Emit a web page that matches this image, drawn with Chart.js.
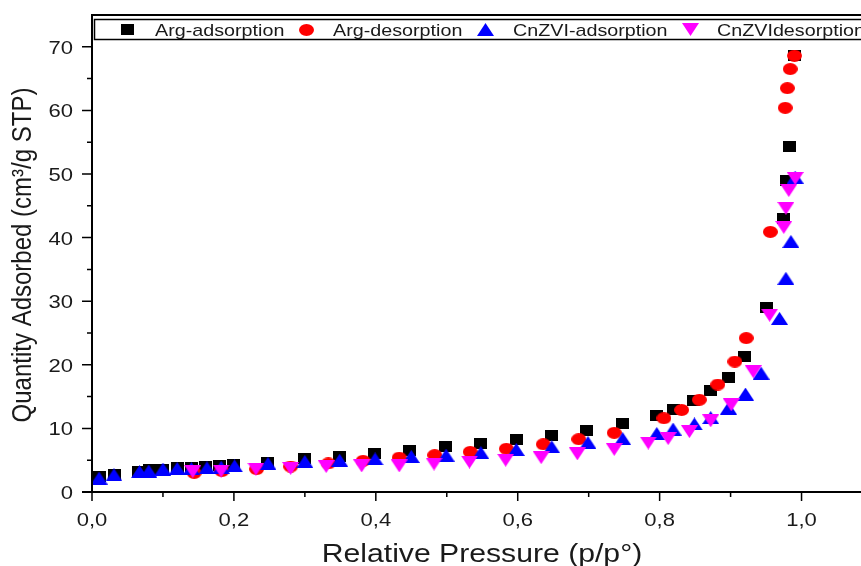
<!DOCTYPE html>
<html lang="en">
<head>
    <meta charset="UTF-8">
    <title>Adsorption Isotherms</title>
    <script src="https://cdn.jsdelivr.net/npm/chart.js"></script>
    <style>
        html, body { margin: 0; padding: 0; background: #fff; overflow: hidden; }
        #wrap { width: 880px; height: 566px; }
    </style>
</head>
<body>
<div id="wrap"><canvas id="isoChart" width="880" height="566"></canvas></div>
<script>
    // Arg adsorption / desorption (relative pressure, quantity adsorbed)
    const argAdsP = [0.011, 0.032, 0.066, 0.081, 0.100, 0.120, 0.140, 0.160, 0.180, 0.200, 0.248, 0.299, 0.349, 0.398, 0.448, 0.498,
                     0.547, 0.598, 0.647, 0.697, 0.747, 0.796, 0.819, 0.848, 0.872, 0.897, 0.920, 0.950, 0.975, 0.979, 0.983, 0.990];
    const argAdsQ = [2.4, 2.8, 3.3, 3.5, 3.6, 3.8, 3.9, 4.0, 4.1, 4.4, 4.7, 5.2, 5.6, 6.1, 6.6, 7.1,
                     7.7, 8.2, 8.9, 9.6, 10.8, 12.1, 13.0, 14.4, 15.9, 18.0, 21.3, 29.0, 43.0, 48.9, 54.3, 68.6];
    const argDesP = [0.144, 0.183, 0.232, 0.280, 0.333, 0.382, 0.433, 0.483, 0.533, 0.584, 0.636, 0.686,
                     0.736, 0.806, 0.831, 0.856, 0.882, 0.906, 0.922, 0.956, 0.977, 0.980, 0.984, 0.990];
    const argDesQ = [3.0, 3.3, 3.6, 4.0, 4.5, 4.9, 5.4, 5.8, 6.3, 6.8, 7.5, 8.3,
                     9.3, 11.6, 12.9, 14.5, 16.9, 20.5, 24.2, 40.9, 60.4, 63.5, 66.5, 68.6];

    // CnZVI adsorption / desorption
    const cnAdsP = [0.010, 0.031, 0.067, 0.080, 0.100, 0.120, 0.140, 0.162, 0.182, 0.201, 0.248, 0.300, 0.349, 0.399, 0.450, 0.499,
                    0.548, 0.598, 0.648, 0.699, 0.748, 0.796, 0.819, 0.849, 0.872, 0.897, 0.921, 0.943, 0.969, 0.978, 0.985, 0.991];
    const cnAdsQ = [2.2, 2.7, 3.2, 3.3, 3.6, 3.7, 3.7, 3.8, 3.9, 4.1, 4.5, 4.8, 5.0, 5.2, 5.6, 5.8,
                    6.2, 6.7, 7.1, 7.8, 8.4, 9.2, 9.9, 10.7, 11.7, 13.2, 15.4, 18.7, 27.3, 33.6, 39.4, 49.5];
    const cnDesP = [0.142, 0.182, 0.231, 0.280, 0.330, 0.380, 0.433, 0.482, 0.532, 0.583, 0.633, 0.684,
                    0.736, 0.784, 0.812, 0.842, 0.872, 0.901, 0.932, 0.955, 0.975, 0.978, 0.982, 0.991];
    const cnDesQ = [3.2, 3.3, 3.6, 3.7, 4.0, 4.1, 4.1, 4.4, 4.7, 5.0, 5.4, 6.0,
                    6.7, 7.7, 8.4, 9.5, 11.2, 13.7, 18.9, 27.8, 41.6, 44.6, 47.4, 49.3];

    const seriesNames = ['Arg-adsorption', 'Arg-desorption', 'CnZVI-adsorption', 'CnZVIdesorption'];
    const xTicks = [0, 0.2, 0.4, 0.6, 0.8, 1.0];
    const xTickLabels = ['0,0', '0,2', '0,4', '0,6', '0,8', '1,0'];
    const yTicks = [0, 10, 20, 30, 40, 50, 60, 70];
    const xTitle = 'Relative Pressure (p/p°)';
    const yTitle = 'Quantity Adsorbed (cm³/g STP)';

    const toPoints = (px, qy) => px.map((p, i) => ({ x: p, y: qy[i] }));

    const FONT = "'Liberation Sans', Arial, sans-serif";
    const TEXT = '#1a1a1a';
    const SX = 1.16;   // the original figure is a little wider than tall

    // small marker bitmaps (slightly wide, like the source image)
    function marker(w, h, color, draw) {
        const c = document.createElement('canvas');
        c.width = w; c.height = h;
        const g = c.getContext('2d');
        g.fillStyle = color;
        g.beginPath();
        draw(g, w, h);
        g.fill();
        return c;
    }
    const sqMark = marker(13, 11, '#000000', (g, w, h) => g.rect(0, 0, w, h));
    const ciMark = marker(15, 12, '#ff0000', (g, w, h) => g.ellipse(w / 2, h / 2, w / 2, h / 2, 0, 0, Math.PI * 2));
    const upMark = marker(17, 13, '#0000ff', (g, w, h) => { g.moveTo(w / 2, 0); g.lineTo(w, h); g.lineTo(0, h); g.closePath(); });
    const dnMark = marker(17, 13, '#ff00ff', (g, w, h) => { g.moveTo(0, 0); g.lineTo(w, 0); g.lineTo(w / 2, h); g.closePath(); });

    function wideText(ctx, txt, x, y, align) {
        ctx.save();
        ctx.translate(x, y);
        ctx.scale(SX, 1);
        ctx.textAlign = align;
        ctx.textBaseline = 'alphabetic';
        ctx.fillText(txt, 0, 0);
        ctx.restore();
    }

    // axis lines, frame, tick marks, tick labels and titles
    const axesFrame = {
        id: 'axesFrame',
        afterDraw(chart) {
            const { ctx, chartArea: a, scales: { x, y } } = chart;
            ctx.save();
            ctx.strokeStyle = '#000';
            ctx.lineWidth = 2;
            ctx.beginPath();
            ctx.moveTo(a.left - 10, a.bottom);
            ctx.lineTo(a.right + 10, a.bottom);
            ctx.moveTo(a.left, a.bottom);
            ctx.lineTo(a.left, a.top);
            ctx.lineTo(a.right + 10, a.top);
            ctx.stroke();

            ctx.lineWidth = 1.5;
            ctx.beginPath();
            for (let i = 0; i <= 10; i++) {
                const px = x.getPixelForValue(i / 10);
                const len = i % 2 === 0 ? 9 : 5;
                ctx.moveTo(px, a.bottom);
                ctx.lineTo(px, a.bottom + len);
            }
            for (let i = 0; i <= 14; i++) {
                const py = y.getPixelForValue(i * 5);
                const len = i % 2 === 0 ? 10 : 5;
                ctx.moveTo(a.left, py);
                ctx.lineTo(a.left - len, py);
            }
            ctx.stroke();

            ctx.fillStyle = TEXT;
            ctx.font = '19px ' + FONT;
            xTicks.forEach((v, i) => wideText(ctx, xTickLabels[i], x.getPixelForValue(v), a.bottom + 34, 'center'));
            yTicks.forEach(v => wideText(ctx, String(v), a.left - 19, y.getPixelForValue(v) + 7, 'right'));

            ctx.font = '26px ' + FONT;
            wideText(ctx, xTitle, 482, 562, 'center');

            ctx.font = '24px ' + FONT;
            ctx.save();
            ctx.translate(31, 255);
            ctx.rotate(-Math.PI / 2);
            ctx.scale(1, SX);
            ctx.textAlign = 'center';
            ctx.textBaseline = 'alphabetic';
            ctx.fillText(yTitle, 0, 0);
            ctx.restore();
            ctx.restore();
        }
    };

    // boxed legend inside the plot, along its top edge
    const markX = [127.5, 306, 485, 690];
    const textX = [155, 333, 513, 717];
    const boxLegend = {
        id: 'boxLegend',
        afterDraw(chart) {
            const ctx = chart.ctx;
            ctx.save();
            ctx.fillStyle = '#fff';
            ctx.fillRect(94, 19, 800, 20);
            ctx.strokeStyle = '#000';
            ctx.lineWidth = 1.5;
            ctx.strokeRect(94.5, 19.5, 800, 20);
            ctx.font = '17px ' + FONT;
            chart.data.datasets.forEach((ds, i) => {
                const img = ds.pointStyle;
                ctx.drawImage(img, Math.round(markX[i] - img.width / 2), Math.round(29.5 - img.height / 2));
                ctx.fillStyle = TEXT;
                wideText(ctx, ds.label, textX[i], 35.5, 'left');
            });
            ctx.restore();
        }
    };

    new Chart(document.getElementById('isoChart'), {
        type: 'scatter',
        data: {
            datasets: [
                { label: seriesNames[0], data: toPoints(argAdsP, argAdsQ), pointStyle: sqMark, order: 4 },
                { label: seriesNames[1], data: toPoints(argDesP, argDesQ), pointStyle: ciMark, order: 3 },
                { label: seriesNames[2], data: toPoints(cnAdsP, cnAdsQ), pointStyle: upMark, order: 2 },
                { label: seriesNames[3], data: toPoints(cnDesP, cnDesQ), pointStyle: dnMark, order: 1 }
            ]
        },
        options: {
            responsive: false,
            animation: false,
            layout: { autoPadding: false, padding: { top: 15, right: 7.5, left: 0, bottom: 0 } },
            plugins: { legend: { display: false }, tooltip: { enabled: false } },
            scales: {
                x: {
                    type: 'linear', min: 0, max: 1.1,
                    afterFit: s => { s.height = 74; },
                    grid: { display: false, drawTicks: false },
                    border: { display: false },
                    ticks: { display: false }
                },
                y: {
                    type: 'linear', min: 0, max: 75,
                    afterFit: s => { s.width = 92; },
                    grid: { display: false, drawTicks: false },
                    border: { display: false },
                    ticks: { display: false }
                }
            }
        },
        plugins: [axesFrame, boxLegend]
    });
</script>
</body>
</html>
